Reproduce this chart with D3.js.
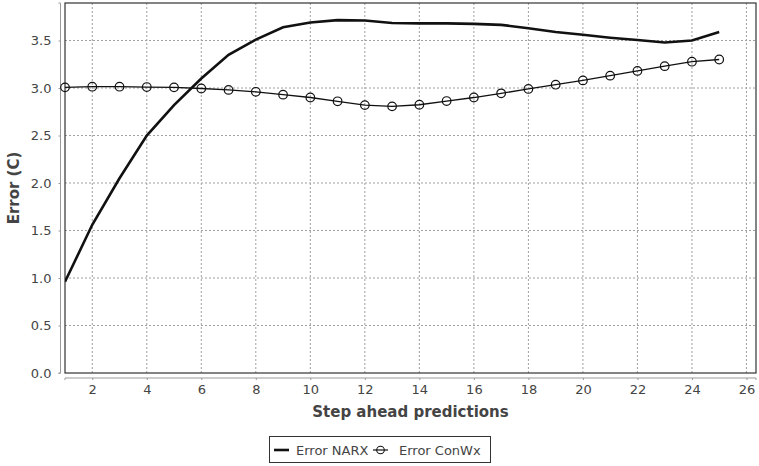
<!DOCTYPE html>
<html><head><meta charset="utf-8">
<script src="https://cdn.jsdelivr.net/npm/d3@7"></script>
<style>body{margin:0;background:#fff}svg{display:block}text{font-family:"DejaVu Sans",Verdana,sans-serif}</style>
</head><body>
<svg id="c" width="759" height="466"></svg>
<script>
const steps = [1,2,3,4,5,6,7,8,9,10,11,12,13,14,15,16,17,18,19,20,21,22,23,24,25];
const narx = [0.96,1.56,2.05,2.5,2.82,3.1,3.35,3.51,3.64,3.69,3.715,3.71,3.685,3.68,3.68,3.675,3.665,3.63,3.59,3.56,3.53,3.505,3.48,3.50,3.59];
const conwx = [3.007,3.014,3.014,3.01,3.007,2.995,2.98,2.96,2.93,2.90,2.86,2.82,2.807,2.824,2.863,2.90,2.944,2.99,3.035,3.08,3.13,3.18,3.23,3.277,3.30];
const xTicks = [2,4,6,8,10,12,14,16,18,20,22,24,26];
const yTicks = [0,0.5,1,1.5,2,2.5,3,3.5];
const seriesNames = ["Error NARX","Error ConWx"];

const svg = d3.select("#c");
const L=65, R=756, T=3, B=373;
const x = d3.scaleLinear().domain([1,26.35]).range([L,R]);
const y = d3.scaleLinear().domain([0,3.895]).range([B,T]);

// grid
const g = svg.append("g");
g.selectAll(".gx").data(xTicks).enter().append("line")
  .attr("x1",d=>x(d)).attr("x2",d=>x(d)).attr("y1",T).attr("y2",B)
  .attr("stroke","#a0a0a0").attr("stroke-width",1).attr("stroke-dasharray","2,2");
g.selectAll(".gy").data(yTicks.filter(d=>d>0)).enter().append("line")
  .attr("x1",L).attr("x2",R).attr("y1",d=>y(d)).attr("y2",d=>y(d))
  .attr("stroke","#a0a0a0").attr("stroke-width",1).attr("stroke-dasharray","2,2");

// axes
const xAxis = svg.append("g").attr("transform",`translate(0,${B+5})`)
  .call(d3.axisBottom(x).tickValues(xTicks).tickSize(2).tickPadding(5).tickFormat(d3.format("d")));
const yAxis = svg.append("g").attr("transform",`translate(${L-4.5},0)`)
  .call(d3.axisLeft(y).tickValues(yTicks).tickSize(2).tickPadding(7).tickFormat(d3.format(".1f")));
[xAxis,yAxis].forEach(a=>{
  a.select(".domain").attr("stroke","#999");
  a.selectAll(".tick line").attr("stroke","#999");
  a.selectAll("text").attr("fill","#444").style("font-size","13px").style("font-family","DejaVu Sans");
});
yAxis.select(".domain").attr("d",`M-2,${T}H0V${B}H-2`);
xAxis.select(".domain").attr("d",`M${L},2V0H${R}V2`);

// border
svg.append("rect").attr("x",L).attr("y",T).attr("width",R-L).attr("height",B-T)
  .attr("fill","none").attr("stroke","#333").attr("stroke-width",1.2);

// clip
svg.append("clipPath").attr("id","clip").append("rect").attr("x",L).attr("y",T).attr("width",R-L).attr("height",B-T);

const line = d3.line().x((d,i)=>x(steps[i])).y(d=>y(d));
svg.append("path").datum(narx).attr("d",line).attr("fill","none").attr("stroke","#111").attr("stroke-width",2.6).attr("clip-path","url(#clip)");
svg.append("path").datum(conwx).attr("d",line).attr("fill","none").attr("stroke","#111").attr("stroke-width",1.3);
svg.selectAll(".pt").data(conwx).enter().append("circle")
  .attr("cx",(d,i)=>x(steps[i])).attr("cy",d=>y(d)).attr("r",4.3)
  .attr("fill","none").attr("stroke","#111").attr("stroke-width",1.2);

// axis titles
svg.append("text").attr("x",(L+R)/2).attr("y",417).attr("text-anchor","middle")
  .style("font-size","15px").style("font-weight","bold").attr("fill","#444").text("Step ahead predictions");
svg.append("text").attr("transform",`translate(19,${(T+B)/2}) rotate(-90)`).attr("text-anchor","middle")
  .style("font-size","15px").style("font-weight","bold").attr("fill","#444").text("Error (C)");

// legend
const lg = svg.append("g");
lg.append("rect").attr("x",269.5).attr("y",436.5).attr("width",221).attr("height",26).attr("fill","#fff").attr("stroke","#333");
lg.append("line").attr("x1",274).attr("x2",289).attr("y1",450).attr("y2",450).attr("stroke","#111").attr("stroke-width",2.6);
lg.append("text").attr("x",296).attr("y",454.5).style("font-size","13px").attr("fill","#444").text(seriesNames[0]);
lg.append("line").attr("x1",373).attr("x2",388).attr("y1",450).attr("y2",450).attr("stroke","#111").attr("stroke-width",1.2);
lg.append("circle").attr("cx",380.5).attr("cy",450).attr("r",3.8).attr("fill","none").attr("stroke","#111").attr("stroke-width",1.1);
lg.append("text").attr("x",399).attr("y",454.5).style("font-size","13px").attr("fill","#444").text(seriesNames[1]);
</script>
</body></html>
